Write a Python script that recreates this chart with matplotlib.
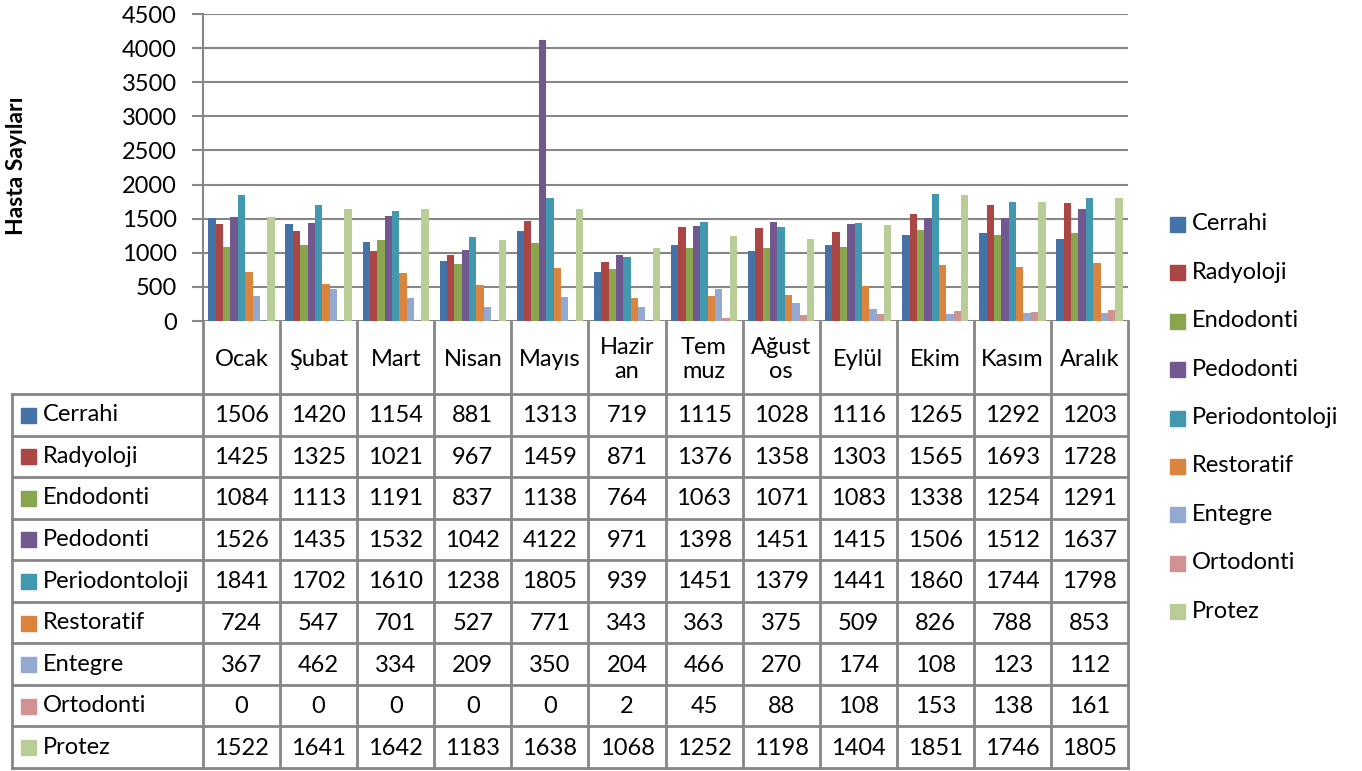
import numpy as np
import matplotlib.pyplot as plt

plt.rcParams['font.family'] = ['Lato', 'DejaVu Sans']

months = ['Ocak', 'Şubat', 'Mart', 'Nisan', 'Mayıs', 'Hazir\nan', 'Tem\nmuz',
          'Ağust\nos', 'Eylül', 'Ekim', 'Kasım', 'Aralık']
series = ['Cerrahi', 'Radyoloji', 'Endodonti', 'Pedodonti', 'Periodontoloji',
          'Restoratif', 'Entegre', 'Ortodonti', 'Protez']
cerrahi = [1506, 1420, 1154, 881, 1313, 719, 1115, 1028, 1116, 1265, 1292, 1203]
radyoloji = [1425, 1325, 1021, 967, 1459, 871, 1376, 1358, 1303, 1565, 1693, 1728]
endodonti = [1084, 1113, 1191, 837, 1138, 764, 1063, 1071, 1083, 1338, 1254, 1291]
pedodonti = [1526, 1435, 1532, 1042, 4122, 971, 1398, 1451, 1415, 1506, 1512, 1637]
periodontoloji = [1841, 1702, 1610, 1238, 1805, 939, 1451, 1379, 1441, 1860, 1744, 1798]
restoratif = [724, 547, 701, 527, 771, 343, 363, 375, 509, 826, 788, 853]
entegre = [367, 462, 334, 209, 350, 204, 466, 270, 174, 108, 123, 112]
ortodonti = [0, 0, 0, 0, 0, 2, 45, 88, 108, 153, 138, 161]
protez = [1522, 1641, 1642, 1183, 1638, 1068, 1252, 1198, 1404, 1851, 1746, 1805]
values = [cerrahi, radyoloji, endodonti, pedodonti, periodontoloji,
          restoratif, entegre, ortodonti, protez]
colors = ['#4572A7', '#AA4643', '#89A54E', '#71588F', '#4198AF',
          '#DB843D', '#93A9CF', '#D19392', '#B9CD96']

W, H = 1362, 771
fig = plt.figure(figsize=(W / 100, H / 100), dpi=100)
fs = 17

# pixel layout
left, right, top, bottom = 203, 1128, 14, 321
hdr_bot = 394
row_h = (768 - hdr_bot) / 9
tab_left = 12
grid_c = '#868686'

ax = fig.add_axes([left / W, 1 - bottom / H, (right - left) / W, (bottom - top) / H])
n = len(series)
group = 0.86
bw = group / n
x = np.arange(len(months))
for i, (name, vals, c) in enumerate(zip(series, values, colors)):
    ax.bar(x - group / 2 + bw * (i + 0.5), vals, bw, color=c, label=name, zorder=3)
ax.set_xlim(-0.5, len(months) - 0.5)
ax.set_ylim(0, 4500)
ax.set_yticks(np.arange(0, 4501, 500))
ax.yaxis.grid(True, color=grid_c, lw=1.5, zorder=0)
ax.set_xticks([])
for s in ['top', 'right', 'bottom']:
    ax.spines[s].set_visible(False)
ax.spines['left'].set_color(grid_c)
ax.spines['left'].set_linewidth(1.5)
ax.tick_params(axis='y', length=8, width=1.5, color=grid_c, labelsize=fs, pad=11)

# table overlay in pixel coordinates
ov = fig.add_axes([0, 0, 1, 1], zorder=-1)
ov.set_xlim(0, W)
ov.set_ylim(H, 0)
ov.axis('off')
ov.text(17, 166, 'Hasta Sayıları', rotation=90, ha='center', va='center',
        fontsize=16.5, fontweight='bold')
col_w = (right - left) / len(months)
lw = 2
for j in range(len(months) + 1):
    xx = left + j * col_w
    ov.plot([xx, xx], [bottom, 768], color=grid_c, lw=lw)
ov.plot([tab_left, tab_left], [hdr_bot, 768], color=grid_c, lw=lw)
for r in range(10):
    yy = hdr_bot + r * row_h
    ov.plot([tab_left, right], [yy, yy], color=grid_c, lw=lw)

for j, m in enumerate(months):
    ov.text(left + (j + 0.5) * col_w, (bottom + hdr_bot) / 2 + 2, m, ha='center',
            va='center', fontsize=fs, linespacing=1.2)
for i, (name, vals, c) in enumerate(zip(series, values, colors)):
    yc = hdr_bot + (i + 0.5) * row_h
    ov.add_patch(plt.Rectangle((21, yc - 7), 15, 15, color=c))
    ov.text(43, yc, name, ha='left', va='center', fontsize=fs)
    for j, v in enumerate(vals):
        ov.text(left + (j + 0.5) * col_w, yc + 1, str(v), ha='center', va='center',
                fontsize=fs)

# legend on the right
for i, (name, c) in enumerate(zip(series, colors)):
    yc = 224 + i * 48.4
    ov.add_patch(plt.Rectangle((1170, yc - 7), 15, 15, color=c))
    ov.text(1192, yc, name, ha='left', va='center', fontsize=fs)

fig.savefig('out.png', dpi=100)
